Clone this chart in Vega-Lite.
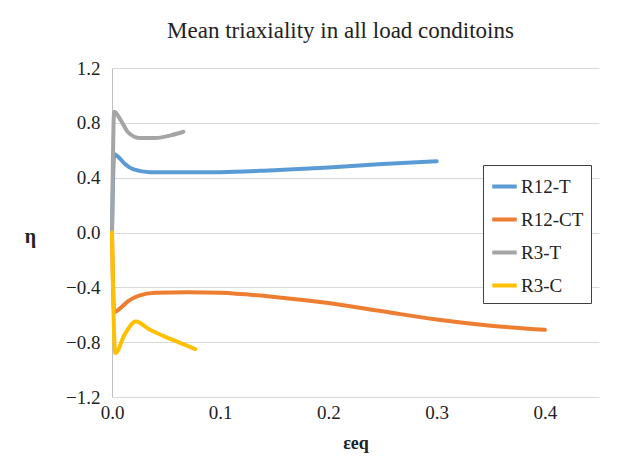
{
  "$schema": "https://vega.github.io/schema/vega-lite/v6.json",
  "width": 487,
  "height": 329,
  "autosize": {"type": "none"},
  "padding": {"left": 112, "top": 68, "right": 30, "bottom": 68},
  "background": "white",
  "title": {
    "text": "Mean triaxiality in all load conditoins",
    "font": "Times New Roman, Liberation Serif, serif",
    "fontSize": 23,
    "fontWeight": "normal",
    "color": "#222222",
    "anchor": "middle",
    "dx": -15,
    "offset": 16
  },
  "config": {
    "view": {"stroke": null},
    "font": "Times New Roman, Liberation Serif, serif",
    "axis": {"labelFont": "Times New Roman, Liberation Serif, serif", "titleFont": "Times New Roman, Liberation Serif, serif"},
    "legend": {"labelFont": "Times New Roman, Liberation Serif, serif"}
  },
  "data": {
    "values": [
      {"s": "R12-T", "i": 0, "x": 0.0, "y": 0.0},
      {"s": "R12-T", "i": 1, "x": 0.002, "y": 0.57},
      {"s": "R12-T", "i": 2, "x": 0.006, "y": 0.55},
      {"s": "R12-T", "i": 3, "x": 0.012, "y": 0.5},
      {"s": "R12-T", "i": 4, "x": 0.02, "y": 0.46},
      {"s": "R12-T", "i": 5, "x": 0.035, "y": 0.44},
      {"s": "R12-T", "i": 6, "x": 0.06, "y": 0.44},
      {"s": "R12-T", "i": 7, "x": 0.1, "y": 0.44},
      {"s": "R12-T", "i": 8, "x": 0.15, "y": 0.455},
      {"s": "R12-T", "i": 9, "x": 0.2, "y": 0.475},
      {"s": "R12-T", "i": 10, "x": 0.25, "y": 0.5},
      {"s": "R12-T", "i": 11, "x": 0.3, "y": 0.52},
      {"s": "R12-CT", "i": 0, "x": 0.0, "y": 0.0},
      {"s": "R12-CT", "i": 1, "x": 0.002, "y": -0.58},
      {"s": "R12-CT", "i": 2, "x": 0.008, "y": -0.55},
      {"s": "R12-CT", "i": 3, "x": 0.015, "y": -0.5},
      {"s": "R12-CT", "i": 4, "x": 0.025, "y": -0.46},
      {"s": "R12-CT", "i": 5, "x": 0.04, "y": -0.44},
      {"s": "R12-CT", "i": 6, "x": 0.07, "y": -0.435},
      {"s": "R12-CT", "i": 7, "x": 0.1, "y": -0.44},
      {"s": "R12-CT", "i": 8, "x": 0.15, "y": -0.47},
      {"s": "R12-CT", "i": 9, "x": 0.2, "y": -0.515},
      {"s": "R12-CT", "i": 10, "x": 0.25, "y": -0.575},
      {"s": "R12-CT", "i": 11, "x": 0.3, "y": -0.635},
      {"s": "R12-CT", "i": 12, "x": 0.35, "y": -0.68},
      {"s": "R12-CT", "i": 13, "x": 0.4, "y": -0.71},
      {"s": "R3-T", "i": 0, "x": 0.0, "y": 0.0},
      {"s": "R3-T", "i": 1, "x": 0.002, "y": 0.88},
      {"s": "R3-T", "i": 2, "x": 0.008, "y": 0.82},
      {"s": "R3-T", "i": 3, "x": 0.015, "y": 0.73},
      {"s": "R3-T", "i": 4, "x": 0.025, "y": 0.69},
      {"s": "R3-T", "i": 5, "x": 0.04, "y": 0.69},
      {"s": "R3-T", "i": 6, "x": 0.055, "y": 0.71},
      {"s": "R3-T", "i": 7, "x": 0.066, "y": 0.735},
      {"s": "R3-C", "i": 0, "x": 0.0, "y": 0.0},
      {"s": "R3-C", "i": 1, "x": 0.003, "y": -0.88},
      {"s": "R3-C", "i": 2, "x": 0.012, "y": -0.74},
      {"s": "R3-C", "i": 3, "x": 0.022, "y": -0.65},
      {"s": "R3-C", "i": 4, "x": 0.035, "y": -0.71},
      {"s": "R3-C", "i": 5, "x": 0.055, "y": -0.78},
      {"s": "R3-C", "i": 6, "x": 0.077, "y": -0.85}
    ]
  },
  "mark": {"type": "line", "strokeWidth": 4, "strokeCap": "round", "strokeJoin": "round", "interpolate": "monotone", "clip": false},
  "encoding": {
    "x": {
      "field": "x",
      "type": "quantitative",
      "scale": {"domain": [0, 0.45], "nice": false},
      "axis": {
        "title": "εeq",
        "titleFontSize": 18,
        "titleFontWeight": "bold",
        "titleColor": "#222222",
        "titlePadding": 12,
        "values": [0, 0.1, 0.2, 0.3, 0.4],
        "format": ".1f",
        "labelFlush": false,
        "labelFontSize": 19,
        "labelColor": "#222222",
        "labelPadding": 6,
        "ticks": false,
        "domain": false,
        "grid": false
      }
    },
    "y": {
      "field": "y",
      "type": "quantitative",
      "scale": {"domain": [-1.2, 1.2], "nice": false},
      "axis": {
        "title": "η",
        "titleAngle": 0,
        "titleX": -82,
        "titleY": 168,
        "titleAlign": "center",
        "titleBaseline": "middle",
        "titleFontSize": 20,
        "titleFontWeight": "bold",
        "titleColor": "#222222",
        "values": [-1.2, -0.8, -0.4, 0, 0.4, 0.8, 1.2],
        "format": ".1f",
        "labelFlush": false,
        "labelFontSize": 19,
        "labelColor": "#222222",
        "labelPadding": 12,
        "ticks": false,
        "domain": true,
        "domainColor": "#bfbfbf",
        "grid": true,
        "gridColor": "#d9d9d9",
        "gridWidth": 1
      }
    },
    "color": {
      "field": "s",
      "type": "nominal",
      "sort": ["R12-T", "R12-CT", "R3-T", "R3-C"],
      "scale": {
        "domain": ["R12-T", "R12-CT", "R3-T", "R3-C"],
        "range": ["#5B9BD5", "#ED7D31", "#A5A5A5", "#FFC000"]
      },
      "legend": {
        "title": null,
        "orient": "none",
        "legendX": 371,
        "legendY": 97,
        "symbolType": "stroke",
        "symbolStrokeWidth": 4,
        "symbolSize": 600,
        "labelFontSize": 19,
        "labelColor": "#222222",
        "labelOffset": 2,
        "rowPadding": 8,
        "strokeColor": "#404040",
        "padding": 7,
        "fillColor": "white"
      }
    },
    "order": {"field": "i", "type": "quantitative"}
  }
}
